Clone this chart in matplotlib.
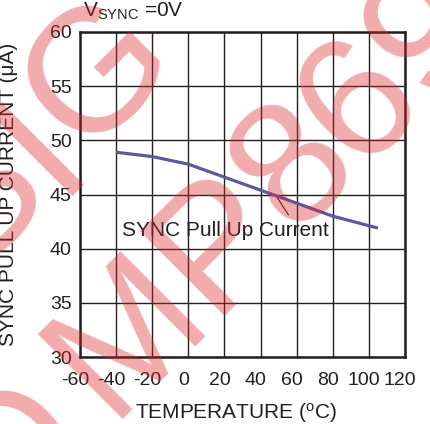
import matplotlib
matplotlib.use("Agg")
import matplotlib.pyplot as plt
import matplotlib.transforms as mtransforms

plt.rcParams['font.family'] = ['Liberation Sans', 'DejaVu Sans']
plt.rcParams['mathtext.fontset'] = 'custom'
plt.rcParams['mathtext.rm'] = 'Liberation Sans'
plt.rcParams['mathtext.it'] = 'Liberation Sans'
plt.rcParams['axes.unicode_minus'] = False

# ---- data ----
temperature = [-40, -20, 0, 20, 40, 60, 80, 105]
current = [48.9, 48.5, 47.8, 46.6, 45.4, 44.2, 43.0, 41.9]
x_ticks = [-60, -40, -20, 0, 20, 40, 60, 80, 100, 120]
x_tick_labels = ["-60", "-40", "-20", "0", "20", "40", "60", "80", "100", "120"]
y_ticks = [30, 35, 40, 45, 50, 55, 60]
y_tick_labels = ["30", "35", "40", "45", "50", "55", "60"]
series_label = "SYNC Pull Up Current"
title_text = r"V$_{\rm SYNC}$ =0V"
x_label = "TEMPERATURE ($^{\\rm o}$C)"
y_label = "SYNC PULL UP CURRENT (\u03bcA)"
watermark_glyphs = ["S", "I", "G", "O", "M", "P", "8", "6", "9"]

W, H = 430, 424
fig = plt.figure(figsize=(W / 100, H / 100), dpi=100)
ax = fig.add_axes([80 / W, 1 - 357 / H, 325 / W, 325 / H])

ax.plot(temperature, current, color='#5a5a9c', lw=2.3, solid_capstyle='butt', zorder=3)

ax.set_xlim(-60, 120)
ax.set_ylim(30, 60)
ax.set_xticks(x_ticks)
ax.set_xticklabels(x_tick_labels)
ax.set_yticks(y_ticks)
ax.set_yticklabels(y_tick_labels)
ax.tick_params(length=0, labelsize=14, colors='#231f20')
ax.tick_params(axis='x', pad=11)
ax.tick_params(axis='y', pad=6)
offset = mtransforms.ScaledTranslation(-5 / 100, 0, fig.dpi_scale_trans)
for lab in ax.get_xticklabels():
    lab.set_transform(lab.get_transform() + offset)

ax.grid(True, color='#231f20', lw=1.0)
ax.set_axisbelow(True)
for s in ax.spines.values():
    s.set_linewidth(1.8)
    s.set_color('#231f20')

ax.set_xlabel(x_label, fontsize=15, color='#231f20')
ax.set_ylabel(y_label, fontsize=15, color='#231f20')
ax.xaxis.set_label_coords((236 - 80) / 325, -(401 - 357) / 325)
ax.yaxis.set_label_coords(-(80 - 18) / 325, 0.5)

fig.text(83 / W, 1 - 17 / H, title_text, fontsize=15, color='#231f20', ha='left', va='baseline')

# series annotation with leader line
ax.annotate("", xy=(48.5, 44.9), xytext=(56.3, 42.9),
            arrowprops=dict(arrowstyle='-', color='#231f20', lw=0.8))
ax.text(20.3, 41.66, series_label, fontsize=15, color='#231f20', ha='center', va='center', zorder=4)

# watermark (decorative), glyph centres in image pixels
wm_size = 126
em = wm_size * 100 / 72
shift = 0.358 * em * 0.7071
wm_centres = [(-32, 189), (30, 135), (87, 62), (2, 446), (116, 323), (208, 230),
              (283, 155), (348, 91), (416, 22)]
for g, (cx, cy) in zip(watermark_glyphs, wm_centres):
    bx, by = cx + shift, cy + shift
    fig.text(bx / W, 1 - by / H, g, fontsize=wm_size,
             color=(0.86, 0.14, 0.16), alpha=0.38, rotation=45,
             rotation_mode='anchor', ha='center', va='baseline', zorder=10)

fig.savefig("out.png", dpi=100)
